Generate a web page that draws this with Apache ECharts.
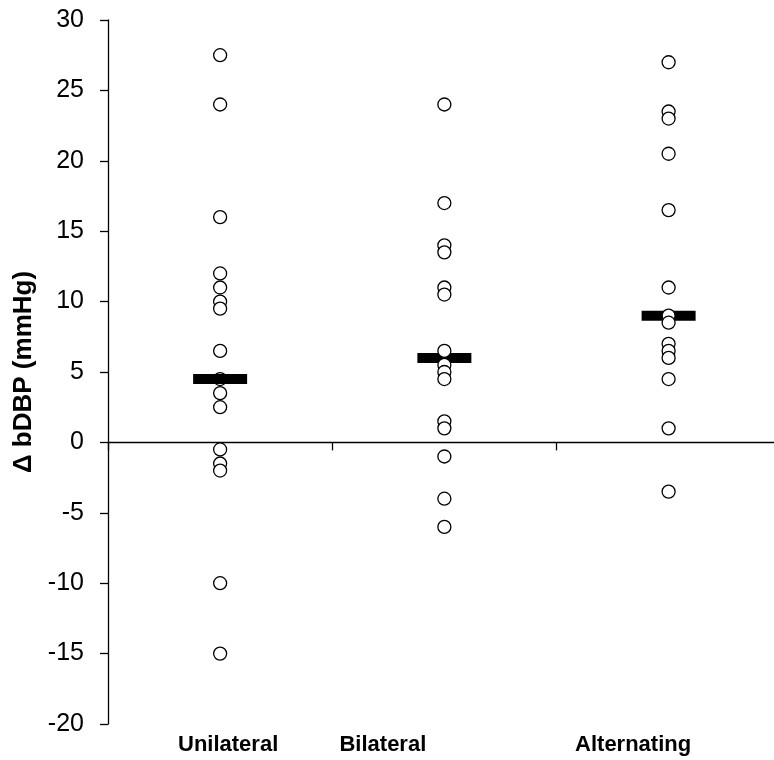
<!DOCTYPE html>
<html>
<head>
<meta charset="utf-8">
<script src="https://cdn.jsdelivr.net/npm/echarts@6/dist/echarts.min.js"></script>
<style>
html,body{margin:0;padding:0;background:#fff;}
#chart{width:774px;height:760px;}
</style>
</head>
<body>
<div id="chart"></div>
<script>
const categories = ['Unilateral', 'Bilateral', 'Alternating'];
const unilateral = [27.5, 24, 16, 12, 11, 10, 9.5, 6.5, 4.5, 3.5, 2.5, -0.5, -1.5, -2, -10, -15];
const bilateral = [24, 17, 14, 13.5, 11, 10.5, 6.5, 5.5, 5, 4.5, 1.5, 1, -1, -4, -6];
const alternating = [27, 23.5, 23, 20.5, 16.5, 11, 9, 8.5, 7, 6.5, 6, 4.5, 1, -3.5];
const centerValues = [4.5, 6, 9];
const yMin = -20, yMax = 30, yStep = 5;
const yTitle = 'Δ bDBP (mmHg)';

const FONT = '"Liberation Sans", Arial, sans-serif';
const chart = echarts.init(document.getElementById('chart'), null, {renderer: 'canvas'});

const catIdx = categories.map((c, i) => i);
const boundaries = categories.map((c, i) => i - 0.5).concat([categories.length - 0.5]);
const labelKeys = {Unilateral: 'u', Bilateral: 'b', Alternating: 'a'};
const richBase = {fontFamily: FONT, fontWeight: 'bold', fontSize: 22, color: '#000'};

const circleStyle = {color: '#fff', borderColor: '#000', borderWidth: 1.3, opacity: 1};

chart.setOption({
  animation: false,
  backgroundColor: '#fff',
  grid: {left: 108, right: 0, top: 20, bottom: 36, containLabel: false},
  xAxis: [
    {
      type: 'value',
      min: -0.5,
      max: 2.47,
      axisLine: {show: true, onZero: true, lineStyle: {color: '#000', width: 1.3}},
      axisTick: {show: true, length: 8, customValues: boundaries, lineStyle: {color: '#000', width: 1.3}},
      axisLabel: {show: false},
      splitLine: {show: false}
    },
    {
      type: 'value',
      min: -0.5,
      max: 2.47,
      position: 'bottom',
      axisLine: {show: false, onZero: false},
      axisTick: {show: false},
      splitLine: {show: false},
      axisLabel: {
        show: true,
        margin: 10,
        customValues: catIdx,
        formatter: function (v) {
          const name = categories[Math.round(v)];
          return '{' + labelKeys[name] + '|' + name + '}';
        },
        rich: {
          u: Object.assign({padding: [0, 0, 0, 16]}, richBase),
          b: Object.assign({padding: [0, 123, 0, 0]}, richBase),
          a: Object.assign({padding: [0, 71, 0, 0]}, richBase)
        }
      }
    }
  ],
  yAxis: {
    type: 'value',
    min: yMin,
    max: yMax,
    interval: yStep,
    name: yTitle,
    nameLocation: 'middle',
    nameGap: 70,
    nameTextStyle: {fontFamily: FONT, fontWeight: 'bold', fontSize: 26, color: '#000'},
    axisLine: {show: true, onZero: false, lineStyle: {color: '#000', width: 1.3}},
    axisTick: {show: true, length: 8, lineStyle: {color: '#000', width: 1.3}},
    axisLabel: {margin: 24, fontFamily: FONT, fontSize: 25, color: '#000'},
    splitLine: {show: false}
  },
  series: [
    {
      name: 'Unilateral',
      type: 'scatter',
      z: 2,
      symbol: 'circle',
      symbolSize: 13,
      itemStyle: circleStyle,
      data: unilateral.map(v => [0, v])
    },
    {
      name: 'Center',
      type: 'scatter',
      z: 3,
      symbol: 'rect',
      symbolSize: [54, 10],
      itemStyle: {color: '#000', opacity: 1},
      data: centerValues.map((v, i) => [catIdx[i], v])
    },
    {
      name: 'Bilateral',
      type: 'scatter',
      z: 4,
      symbol: 'circle',
      symbolSize: 13,
      itemStyle: circleStyle,
      data: bilateral.map(v => [1, v])
    },
    {
      name: 'Alternating',
      type: 'scatter',
      z: 4,
      symbol: 'circle',
      symbolSize: 13,
      itemStyle: circleStyle,
      data: alternating.map(v => [2, v])
    }
  ]
});
</script>
</body>
</html>
